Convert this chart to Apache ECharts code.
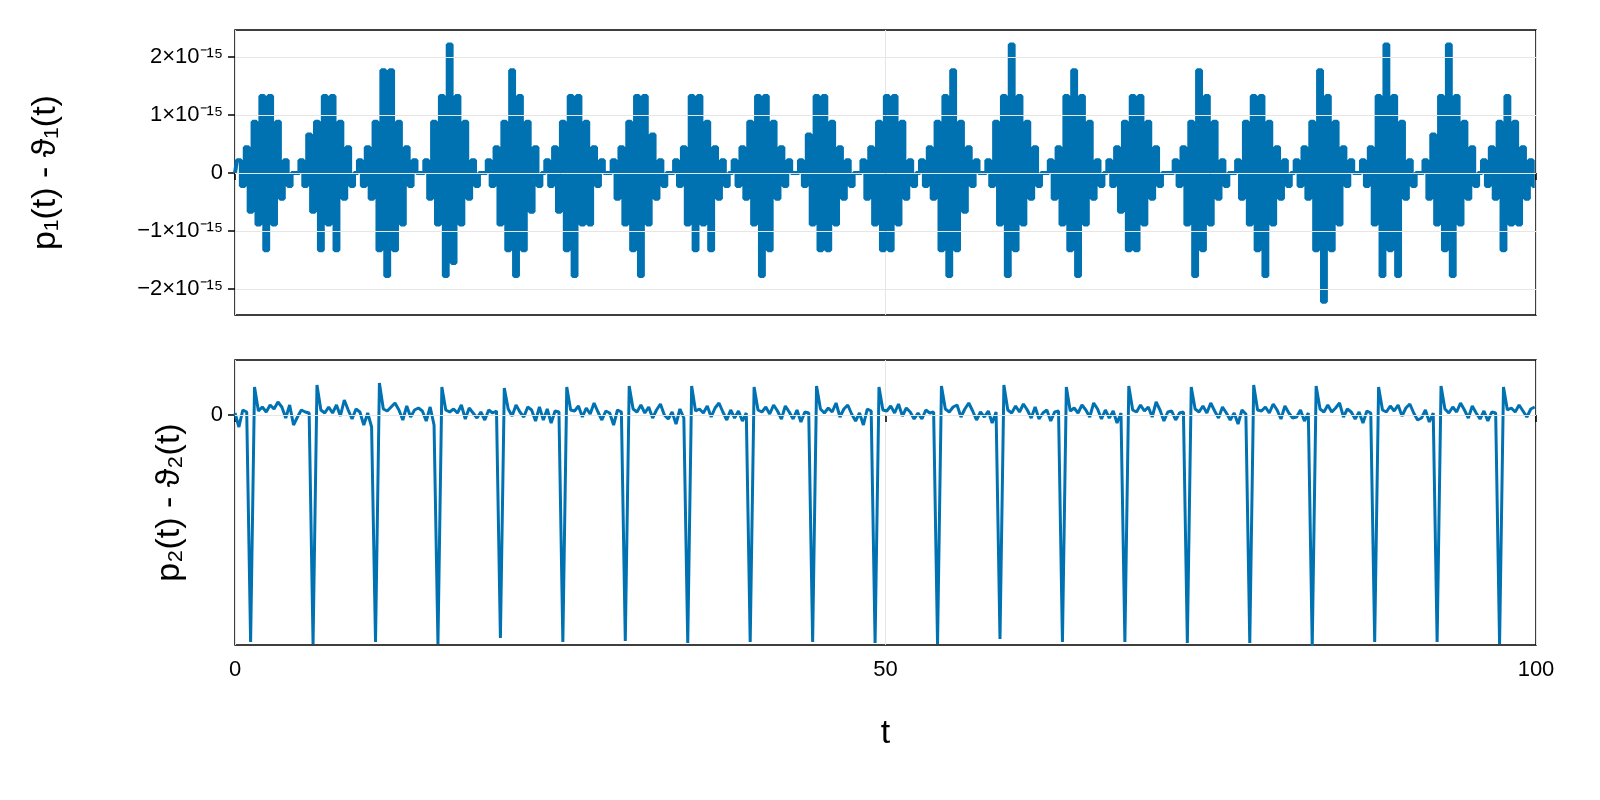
<!DOCTYPE html>
<html>
<head>
<meta charset="utf-8">
<script src="https://cdn.jsdelivr.net/npm/echarts@6/dist/echarts.min.js"></script>
<style>html,body{margin:0;padding:0;background:#fff;overflow:hidden}#main{width:1600px;height:800px}</style>
</head>
<body>
<div id="main"></div>
<script>
// sample step in t
var dt = 0.3;
// one rounding quantum (~2.22e-16), in units of 1e-15
var eps = 0.222;

// p1 - theta1, in quanta, one row per oscillation (16 samples)
var diff1 = [
  0, 1,-1, 2,-3, 4,-4, 6,-6, 6,-4, 4,-2, 1,-1, 0,
  0, 1,-1, 3,-3, 4,-6, 6,-4, 6,-6, 4,-2, 2,-1, 0,
  1,-1, 2,-2, 4,-6, 8,-8, 8,-6, 4,-4, 2,-1, 1, 0,
  0, 1,-2, 4,-4, 6,-8,10,-7, 6,-4, 4,-2, 1,-1, 0,
  0, 1,-1, 2,-4, 4,-6, 8,-8, 6,-6, 4,-3, 2,-1, 0,
  1,-1, 2,-3, 4,-6, 6,-8, 6,-4, 4,-4, 2,-1, 1, 0,
  0, 1,-2, 2,-4, 4,-6, 6,-8, 6,-4, 3,-2, 1,-1, 0,
  0, 1,-1, 2,-4, 6,-6, 6,-4, 4,-6, 2,-2, 1,-1, 0,
  1,-1, 2,-2, 4,-4, 6,-8, 6,-6, 4,-2, 2,-1, 1, 0,
  0, 1,-1, 3,-4, 6,-6, 6,-6, 4,-4, 2,-2, 1,-1, 0,
  0, 1,-2, 2,-4, 4,-6, 6,-6, 6,-4, 4,-2, 1,-1, 0,
  1,-1, 2,-2, 4,-6, 6,-8, 8,-6, 4,-3, 2,-1, 1, 0,
  0, 1,-1, 4,-4, 6,-8,10,-6, 6,-4, 4,-2, 2,-1, 0,
  0, 1,-2, 2,-4, 6,-6, 8,-8, 6,-4, 4,-2, 1,-1, 0,
  1,-1, 2,-3, 4,-6, 6,-6, 6,-4, 4,-2, 2,-1, 0, 0,
  0, 1,-1, 2,-4, 4,-8, 8,-6, 6,-4, 4,-2, 1,-1, 0,
  0, 1,-2, 4,-4, 6,-6, 6,-8, 4,-4, 2,-2, 1,-1, 0,
  1,-1, 2,-2, 4,-6, 8,-10, 6,-6, 4,-4, 2,-1, 1, 0,
  0, 1,-1, 2,-4, 6,-8,10,-6, 6,-8, 4,-2, 1,-1, 0,
  0, 1,-2, 3,-4, 6,-6,10,-8, 6,-4, 4,-2, 2,-1, 0,
  1,-1, 2,-2, 4,-6, 6,-4, 4,-4, 2,-2, 1,-1, 0, 0
];

// p2 - theta2, arbitrary units, one row per oscillation (16 samples)
var diff2 = [
  0.02,-0.12, 0.05, 0.03,-2.27, 0.28, 0.04, 0.08, 0.03, 0.10, 0.06, 0.13, 0.08,-0.03, 0.10,-0.10,
 -0.02, 0.05, 0.03, 0.02,-2.29, 0.30, 0.05, 0.02, 0.08, 0.02, 0.10,-0.01, 0.15, 0.05,-0.04, 0.06,
  0.03,-0.10, 0.02,-0.12,-2.27, 0.32, 0.06, 0.04, 0.08, 0.12, 0.05,-0.05, 0.09,-0.02, 0.05, 0.07,
  0.04,-0.06, 0.08,-0.10,-2.29, 0.28, 0.05, 0.03, 0.06, 0.02, 0.10,-0.04, 0.07, 0.02,-0.03, 0.03,
 -0.05, 0.05, 0.02, 0.04,-2.23, 0.27, 0.06,-0.01, 0.10, 0.03,-0.02, 0.08, 0.05,-0.06, 0.08,-0.05,
  0.06,-0.08, 0.04, 0.03,-2.27, 0.28, 0.05, 0.04, 0.09,-0.02, 0.07, 0.01, 0.12, 0.03,-0.05, 0.04,
  0.02,-0.10, 0.05, 0.03,-2.26, 0.29, 0.06, 0.03, 0.10, 0.02, 0.08,-0.03, 0.05, 0.11, 0.00,-0.04,
  0.03,-0.09, 0.06,-0.03,-2.28, 0.29, 0.04, 0.06, 0.02, 0.09,-0.02, 0.07, 0.12, 0.03,-0.05, 0.05,
 -0.03, 0.04,-0.06, 0.02,-2.27, 0.28, 0.05, 0.03, 0.08, 0.01, 0.10, 0.04,-0.04, 0.09, 0.03,-0.04,
  0.05,-0.07, 0.03, 0.02,-2.27, 0.29, 0.06, 0.02, 0.07, 0.03, 0.12,-0.02, 0.06, 0.10, 0.01,-0.06,
  0.02,-0.10, 0.06, 0.04,-2.28, 0.28, 0.05, 0.04, 0.09, 0.02, 0.11,-0.01, 0.07, 0.03,-0.04, 0.02,
 -0.04, 0.05, 0.02, 0.03,-2.29, 0.29, 0.06, 0.03, 0.08, 0.10,-0.02, 0.06, 0.12, 0.04,-0.05, 0.03,
 -0.02, 0.04,-0.08, 0.03,-2.24, 0.30, 0.05, 0.02, 0.09, 0.03, 0.11, 0.05,-0.03, 0.08,-0.04, 0.02,
  0.05,-0.06, 0.03, 0.04,-2.27, 0.28, 0.04, 0.07, 0.02, 0.10, 0.05,-0.02, 0.12, 0.06,-0.04, 0.05,
 -0.03, 0.04,-0.08, 0.02,-2.27, 0.29, 0.05, 0.03, 0.10, 0.04, 0.08,-0.02, 0.13, 0.05,-0.06, 0.03,
  0.04,-0.05, 0.02, 0.03,-2.28, 0.28, 0.06, 0.03, 0.09, 0.02, 0.12, 0.04,-0.03, 0.08, 0.02,-0.05,
  0.02,-0.09, 0.05, 0.01,-2.28, 0.30, 0.05, 0.04, 0.08, 0.02, 0.11, 0.05,-0.04, 0.09, 0.02,-0.03,
 -0.02, 0.05,-0.06, 0.02,-2.31, 0.29, 0.06, 0.03, 0.10, 0.03, 0.07, 0.12,-0.02, 0.06, 0.03,-0.04,
  0.03,-0.08, 0.04, 0.02,-2.27, 0.28, 0.05, 0.03, 0.09, 0.04, 0.10,-0.01, 0.07, 0.11, 0.02,-0.05,
 -0.03, 0.05,-0.07, 0.02,-2.27, 0.29, 0.06, 0.02, 0.08, 0.03, 0.12, 0.05,-0.03, 0.09, 0.02,-0.04,
  0.04,-0.06, 0.03, 0.02,-2.29, 0.28, 0.05, 0.07, 0.03, 0.10, 0.04,-0.02, 0.06, 0.08, 0.02,-0.05
];

var yTicks1 = [-2, -1, 0, 1, 2];

var blue = '#0072b2';
var font = 'Liberation Sans, Arial, sans-serif';

function toPairs(arr, scale) {
  var out = [];
  for (var i = 0; i < arr.length; i++) {
    var t = +(i * dt).toFixed(3);
    if (t > 100) break;
    out.push([t, arr[i] * scale]);
  }
  return out;
}

function sciLabel(v) {
  if (v === 0) return '0';
  return (v < 0 ? '\u2212' : '') + Math.abs(v) + '\u00d710\u207b\u00b9\u2075';
}

var grid1 = {left: 235, right: 64, top: 30, height: 285, outerBoundsMode: 'none', containLabel: false,
  show: true, borderColor: '#000', borderWidth: 1.5};
var grid2 = {left: 235, right: 64, top: 360, height: 285, outerBoundsMode: 'none', containLabel: false,
  show: true, borderColor: '#000', borderWidth: 1.5};

function xAxis(idx, showLabels) {
  return {
    type: 'value', gridIndex: idx, min: 0, max: 100, interval: 50,
    axisLine: {show: false},
    axisTick: {show: true, length: 7, lineStyle: {color: '#000', width: 1.5}},
    axisLabel: {show: showLabels, color: '#000', fontSize: 22, fontFamily: font, margin: 14},
    splitLine: {show: true, lineStyle: {color: '#e6e6e6', width: 1}},
    name: showLabels ? 't' : '', nameLocation: 'middle', nameGap: 72,
    nameTextStyle: {fontSize: 34, fontFamily: font, color: '#000'}
  };
}

var chart = echarts.init(document.getElementById('main'));
chart.setOption({
  animation: false,
  grid: [grid1, grid2],
  xAxis: [xAxis(0, false), xAxis(1, true)],
  yAxis: [
    {
      type: 'value', gridIndex: 0, min: -2.45, max: 2.47,
      axisLine: {show: false},
      axisTick: {show: true, length: 7, customValues: yTicks1, lineStyle: {color: '#000', width: 1.5}},
      axisLabel: {customValues: yTicks1, formatter: sciLabel, color: '#000', fontSize: 22, fontFamily: font, margin: 12},
      splitLine: {show: false},
      name: 'p\u2081(t) - \u03d1\u2081(t)', nameLocation: 'middle', nameGap: 172,
      nameTextStyle: {fontSize: 34, fontFamily: font, color: '#000'}
    },
    {
      type: 'value', gridIndex: 1, min: -2.3, max: 0.55,
      axisLine: {show: false},
      axisTick: {show: true, length: 7, customValues: [0], lineStyle: {color: '#000', width: 1.5}},
      axisLabel: {customValues: [0], color: '#000', fontSize: 22, fontFamily: font, margin: 12},
      splitLine: {show: false},
      name: 'p\u2082(t) - \u03d1\u2082(t)', nameLocation: 'middle', nameGap: 48,
      nameTextStyle: {fontSize: 34, fontFamily: font, color: '#000'}
    }
  ],
  series: [
    {
      type: 'line', xAxisIndex: 0, yAxisIndex: 0, data: [], z: 1,
      markLine: {silent: true, symbol: 'none', label: {show: false},
        lineStyle: {color: '#e6e6e6', type: 'solid', width: 1},
        data: yTicks1.map(function (v) { return {yAxis: v}; })}
    },
    {
      type: 'line', xAxisIndex: 1, yAxisIndex: 1, data: [], z: 1,
      markLine: {silent: true, symbol: 'none', label: {show: false},
        lineStyle: {color: '#e6e6e6', type: 'solid', width: 1},
        data: [{yAxis: 0}]}
    },
    {
      type: 'line', xAxisIndex: 0, yAxisIndex: 0, z: 3, showSymbol: false, step: 'middle',
      lineStyle: {color: blue, width: 4}, data: toPairs(diff1, eps)
    },
    {
      type: 'line', xAxisIndex: 1, yAxisIndex: 1, z: 3, showSymbol: false,
      lineStyle: {color: blue, width: 3}, data: toPairs(diff2, 1)
    }
  ]
});
</script>
</body>
</html>
